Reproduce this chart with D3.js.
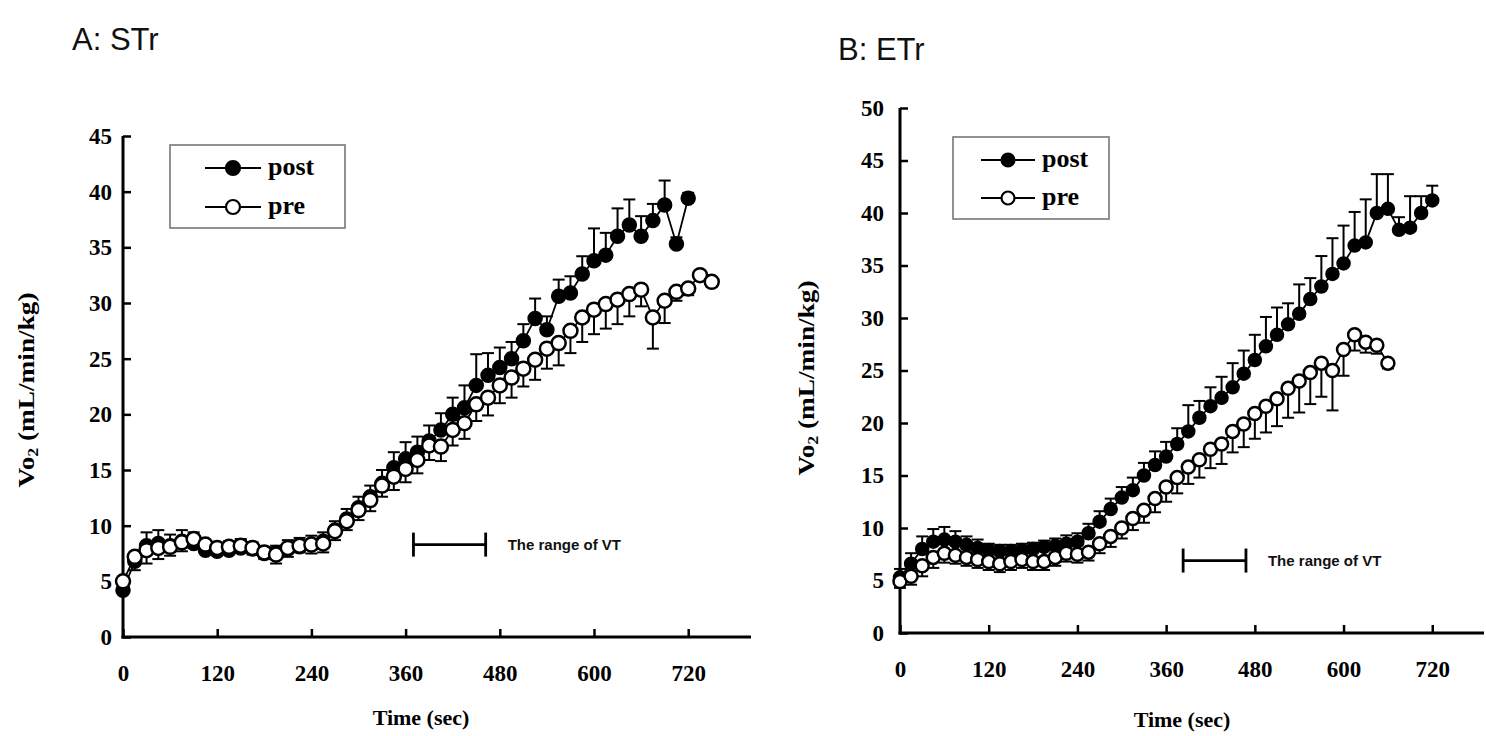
<!DOCTYPE html>
<html><head><meta charset="utf-8">
<script src="https://cdn.jsdelivr.net/npm/d3@7"></script>
<style>html,body{margin:0;padding:0;background:#fff}</style>
</head><body>
<svg id="c" width="1486" height="736"></svg>
<script>
// ---------- DATA ----------
const xTicks = [0,120,240,360,480,600,720];
const yTicksA = [0,5,10,15,20,25,30,35,40,45];
const yTicksB = [0,5,10,15,20,25,30,35,40,45,50];

const timeA_post = [0,15,30,45,60,75,90,105,120,135,150,165,180,195,210,225,240,255,270,285,300,315,330,345,360,375,390,405,420,435,450,465,480,495,510,525,540,555,570,585,600,615,630,645,660,675,690,705,720];
const postA = [4.2,6.8,8.2,8.4,8.2,8.6,8.4,7.8,7.7,7.8,8.0,7.9,7.5,7.6,7.9,8.1,8.3,8.6,9.6,10.6,11.6,12.6,13.8,15.2,16.0,16.6,17.6,18.6,20.0,20.6,22.6,23.5,24.2,25.0,26.6,28.6,27.6,30.6,30.9,32.6,33.8,34.3,36.0,37.0,36.0,37.4,38.8,35.3,39.4];
const postA_se = [0.5,0.8,1.2,1.2,1.0,1.0,1.0,0.8,0.6,0.8,0.8,0.6,0.6,0.6,0.8,0.8,0.8,0.8,0.8,0.9,1.0,1.0,1.2,1.4,1.5,1.4,1.4,1.5,1.5,2.0,2.8,2.0,1.8,1.5,1.5,1.8,1.2,1.5,1.5,1.6,2.9,2.0,2.5,2.3,1.8,1.5,2.2,0.6,0.5];

const timeA_pre = [0,15,30,45,60,75,90,105,120,135,150,165,180,195,210,225,240,255,270,285,300,315,330,345,360,375,390,405,420,435,450,465,480,495,510,525,540,555,570,585,600,615,630,645,660,675,690,705,720,735,750];
const preA = [5.0,7.2,7.8,8.0,8.1,8.5,8.8,8.3,8.0,8.1,8.2,8.0,7.6,7.4,8.0,8.2,8.3,8.4,9.5,10.4,11.4,12.3,13.6,14.4,15.1,15.9,17.2,17.1,18.6,19.2,20.9,21.5,22.6,23.3,24.1,24.9,25.9,26.4,27.5,28.7,29.4,29.9,30.3,30.8,31.2,28.7,30.2,31.0,31.3,32.5,31.9];
const preA_se = [0.5,1.2,1.2,1.0,0.8,0.8,0.8,0.6,0.5,0.5,0.6,0.6,0.6,0.8,0.8,0.6,0.8,0.8,0.8,0.8,0.9,1.0,1.0,1.2,1.2,1.2,1.3,1.3,1.4,1.4,1.5,1.6,1.6,1.8,1.6,1.8,1.8,2.0,2.0,2.2,2.2,2.2,2.2,2.0,1.5,2.8,2.0,0.8,0.6,0.5,0.4];

const timeB_post = [0,15,30,45,60,75,90,105,120,135,150,165,180,195,210,225,240,255,270,285,300,315,330,345,360,375,390,405,420,435,450,465,480,495,510,525,540,555,570,585,600,615,630,645,660,675,690,705,720];
const postB = [5.3,6.6,8.0,8.7,8.9,8.7,8.4,8.1,7.9,7.8,7.8,7.9,8.0,8.2,8.3,8.5,8.7,9.5,10.6,11.8,12.9,13.6,15.0,16.0,16.8,18.0,19.2,20.5,21.6,22.4,23.4,24.7,26.0,27.3,28.4,29.4,30.4,31.8,33.0,34.2,35.2,36.9,37.2,40.0,40.4,38.4,38.6,40.0,41.2];
const postB_se = [0.8,1.0,1.2,1.2,1.2,1.0,0.8,0.8,0.6,0.6,0.6,0.6,0.6,0.6,0.7,0.8,0.8,0.9,1.0,1.0,1.0,1.2,1.2,1.3,1.4,1.5,2.5,1.6,1.8,2.0,2.3,2.2,2.4,2.8,2.6,2.0,2.8,2.0,2.9,3.4,3.6,3.2,4.1,3.7,3.3,1.2,3.0,1.6,1.4];

const timeB_pre = [0,15,30,45,60,75,90,105,120,135,150,165,180,195,210,225,240,255,270,285,300,315,330,345,360,375,390,405,420,435,450,465,480,495,510,525,540,555,570,585,600,615,630,645,660];
const preB = [4.9,5.4,6.4,7.2,7.6,7.4,7.2,7.0,6.8,6.6,6.8,7.0,6.8,6.8,7.2,7.6,7.5,7.7,8.5,9.2,10.0,10.9,11.7,12.8,13.9,14.8,15.8,16.5,17.5,18.0,19.2,19.9,20.9,21.6,22.3,23.3,24.0,24.8,25.7,25.0,27.0,28.4,27.7,27.4,25.7];
const preB_se = [0.6,0.8,1.0,1.0,0.9,0.8,0.8,0.8,0.8,0.8,0.8,0.8,0.8,0.8,0.8,0.8,0.8,0.8,0.9,1.0,1.0,1.1,1.2,1.3,1.4,1.5,1.6,1.7,1.8,1.9,2.0,2.2,2.4,2.5,2.6,2.8,3.0,3.0,3.2,3.8,2.5,1.5,1.0,0.8,0.5];

const vtRangeA = [370, 462];
const vtRangeB = [383, 468];

// ---------- DRAW ----------
const svg = d3.select('#c');
svg.append('rect').attr('width',1486).attr('height',736).attr('fill','#fff');

function zip(t, v, s){ return t.map((d,i)=>({t:d, v:v[i], s:s[i]})); }

function panel(cfg){
  const g = svg.append('g');
  const x = d3.scaleLinear().domain(cfg.xDomain).range(cfg.xRange);
  const y = d3.scaleLinear().domain(cfg.yDomain).range(cfg.yRange);

  // axes
  const xa = g.append('g').attr('transform',`translate(0,${cfg.yRange[0]})`)
    .call(d3.axisBottom(x).tickValues(xTicks).tickSizeInner(-8).tickSizeOuter(0).tickPadding(cfg.xPad));
  const ya = g.append('g').attr('transform',`translate(${cfg.xRange[0]},0)`)
    .call(d3.axisLeft(y).tickValues(cfg.yTicks).tickSizeInner(-8).tickSizeOuter(0).tickPadding(cfg.yPad));
  [xa,ya].forEach(a=>{
    a.select('.domain').attr('stroke','#000').attr('stroke-width',3);
    a.selectAll('.tick line').attr('stroke','#000').attr('stroke-width',2.5);
    a.selectAll('.tick text').attr('font-family','"Liberation Serif", "Times New Roman", serif')
      .attr('font-size',23).attr('fill','#000').attr('font-weight','bold');
  });
  ya.select('.domain').attr('d',`M0,${cfg.yRange[0]+1.5}V${cfg.yRange[1]}`);
  xa.select('.domain').attr('d',`M${cfg.xRange[0]-1.5},0H${cfg.xRange[1]}`);

  // axis titles
  g.append('text').attr('x',cfg.xTitleX).attr('y',cfg.xTitleY).attr('text-anchor','middle')
    .attr('font-family','"Liberation Serif", serif').attr('font-size',22).attr('font-weight','bold').text('Time (sec)');
  const yt = g.append('text').attr('transform',`translate(${cfg.yTitleX},${cfg.yTitleY}) rotate(-90)`)
    .attr('text-anchor','middle').attr('font-family','"Liberation Serif", serif').attr('font-size',23)
    .attr('font-weight','bold').attr('textLength',cfg.yTitleLen).attr('lengthAdjust','spacingAndGlyphs');
  yt.append('tspan').text('Vo');
  yt.append('tspan').attr('font-size',15).attr('dy',4).text('2');
  yt.append('tspan').attr('dy',-4).text(' (mL/min/kg)');

  // panel title
  g.append('text').attr('x',cfg.titleX).attr('y',cfg.titleY)
    .attr('font-family','"Liberation Sans", Arial, sans-serif').attr('font-size',31).attr('fill','#111').text(cfg.title);

  const post = zip(cfg.postT, cfg.post, cfg.postSE);
  const pre = zip(cfg.preT, cfg.pre, cfg.preSE);
  const cap = 6;
  function bars(data, dir){
    const eb = g.append('g').attr('stroke','#000').attr('stroke-width',2);
    data.forEach(d=>{
      const y0 = y(d.v), y1 = y(d.v + dir*d.s), xx = x(d.t);
      eb.append('line').attr('x1',xx).attr('x2',xx).attr('y1',y0).attr('y2',y1);
      eb.append('line').attr('x1',xx-cap).attr('x2',xx+cap).attr('y1',y1).attr('y2',y1);
    });
  }
  bars(post, 1);
  bars(pre, -1);
  const line = d3.line().x(d=>x(d.t)).y(d=>y(d.v));
  g.append('path').datum(post).attr('d',line).attr('fill','none').attr('stroke','#000').attr('stroke-width',1.8);
  g.append('path').datum(pre).attr('d',line).attr('fill','none').attr('stroke','#000').attr('stroke-width',1.8);
  g.selectAll('.pp').data(post).enter().append('circle')
    .attr('cx',d=>x(d.t)).attr('cy',d=>y(d.v)).attr('r',cfg.r).attr('fill','#000').attr('stroke','#000').attr('stroke-width',1.5);
  g.selectAll('.pr').data(pre).enter().append('circle')
    .attr('cx',d=>x(d.t)).attr('cy',d=>y(d.v)).attr('r',cfg.r).attr('fill','#fff').attr('stroke','#000').attr('stroke-width',2.5);

  // legend
  const L = cfg.legend;
  g.append('rect').attr('x',L.x).attr('y',L.y).attr('width',L.w).attr('height',L.h)
    .attr('fill','#fff').attr('stroke','#777').attr('stroke-width',1.6);
  [['post','#000',L.row1],['pre','#fff',L.row2]].forEach(([lab,fill,ry])=>{
    g.append('line').attr('x1',L.lx1).attr('x2',L.lx2).attr('y1',ry).attr('y2',ry).attr('stroke','#000').attr('stroke-width',1.8);
    g.append('circle').attr('cx',(L.lx1+L.lx2)/2).attr('cy',ry).attr('r',cfg.r).attr('fill',fill).attr('stroke','#000').attr('stroke-width',2.2);
    g.append('text').attr('x',L.tx).attr('y',ry+7).attr('font-family','"Liberation Serif", serif')
      .attr('font-size',26).attr('font-weight','bold').text(lab);
  });

  // VT range annotation
  const vy = y(cfg.vtLevel);
  const vg = g.append('g').attr('stroke','#000').attr('stroke-width',2.8);
  vg.append('line').attr('x1',x(cfg.vt[0])).attr('x2',x(cfg.vt[1])).attr('y1',vy).attr('y2',vy);
  vg.append('line').attr('x1',x(cfg.vt[0])).attr('x2',x(cfg.vt[0])).attr('y1',vy-12).attr('y2',vy+12);
  vg.append('line').attr('x1',x(cfg.vt[1])).attr('x2',x(cfg.vt[1])).attr('y1',vy-12).attr('y2',vy+12);
  g.append('text').attr('x',x(cfg.vt[1])+22).attr('y',vy+5).attr('font-family','"Liberation Sans", Arial, sans-serif')
    .attr('font-size',15).attr('font-weight','bold').attr('fill','#111').text('The range of VT');
}

panel({
  title:'A: STr', titleX:72, titleY:50,
  xDomain:[0,800], xRange:[123,751], yDomain:[0,45], yRange:[637,136], yTicks:yTicksA,
  xPad:28, yPad:11, xTitleX:421, xTitleY:725, yTitleX:34, yTitleY:390, yTitleLen:195, r:7,
  postT:timeA_post, post:postA, postSE:postA_se, preT:timeA_pre, pre:preA, preSE:preA_se,
  legend:{x:170,y:145,w:175,h:83,row1:168,row2:207,lx1:205,lx2:261,tx:268},
  vt:vtRangeA, vtLevel:8.3
});
panel({
  title:'B: ETr', titleX:838, titleY:60,
  xDomain:[0,790], xRange:[900,1484], yDomain:[0,50], yRange:[633,108], yTicks:yTicksB,
  xPad:28, yPad:16, xTitleX:1182, xTitleY:727, yTitleX:814, yTitleY:378, yTitleLen:195, r:6.5,
  postT:timeB_post, post:postB, postSE:postB_se, preT:timeB_pre, pre:preB, preSE:preB_se,
  legend:{x:953,y:137,w:156,h:82,row1:160,row2:198,lx1:981,lx2:1035,tx:1042},
  vt:vtRangeB, vtLevel:6.9
});
</script>
</body></html>
